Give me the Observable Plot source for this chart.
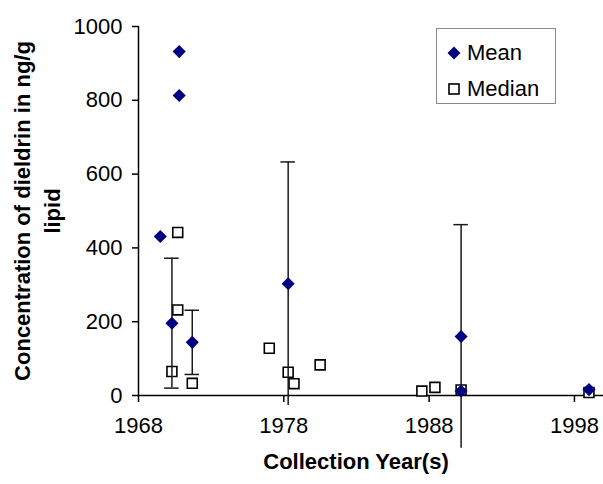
<!DOCTYPE html>
<html><head><meta charset="utf-8">
<script src="https://cdn.jsdelivr.net/npm/d3@7"></script>
<script src="https://cdn.jsdelivr.net/npm/@observablehq/plot@0.6"></script>
<style>
body{margin:0;background:#fff;}
#wrap{position:relative;width:603px;height:484px;font-family:"Liberation Sans",Arial,sans-serif;}
#legend{position:absolute;left:436px;top:28px;width:120px;height:76px;border:1px solid #8a8a8a;background:#fff;box-sizing:border-box;font-size:22px;color:#000;}
.item{position:absolute;left:0;height:24px;display:flex;align-items:center;}
.item svg{margin-left:10px;margin-right:6px;}
</style>
</head><body>
<div id="wrap"></div>
<script>
const xTicks = [1968, 1978, 1988, 1998];
const yTicks = [0, 200, 400, 600, 800, 1000];

const meanYears  = [1969.5, 1970.8, 1970.8, 1970.3, 1971.7, 1978.3, 1990.2, 1990.2, 1999.0];
const meanValues = [431, 932, 813, 196, 144, 303, 160, 12, 16];
const meanSD     = [null, null, null, 176, 87, 330, 303, null, null];

const medianYears  = [1970.7, 1970.7, 1970.3, 1971.7, 1977.0, 1978.3, 1978.7, 1980.5, 1987.5, 1988.4, 1990.2, 1999.0];
const medianValues = [442, 232, 65, 33, 128, 63, 32, 83, 12, 22, 15, 8];

const seriesNames = ["Mean", "Median"];
const xTitle = "Collection Year(s)";
const yTitle = "Concentration of dieldrin in ng/g\nlipid";

const means = meanYears.map((x, i) => ({x, y: meanValues[i], sd: meanSD[i]}));
const medians = medianYears.map((x, i) => ({x, y: medianValues[i]}));
const bars = means.filter(d => d.sd != null);
const caps = [];
bars.forEach(d => {
  [d.y - d.sd, d.y + d.sd].forEach(v => { if (v >= 0) caps.push({x: d.x, y: v}); });
});
const capHalf = 0.5;

const chart = Plot.plot({
  width: 603,
  height: 484,
  marginLeft: 138,
  marginRight: 0,
  marginTop: 26,
  marginBottom: 89,
  style: {fontFamily: "Liberation Sans, Arial, sans-serif", fontSize: "22px", color: "#000", background: "#fff"},
  x: {domain: [1968, 2000], label: null},
  y: {domain: [0, 1000], label: null},
  marks: [
    Plot.axisX({ticks: xTicks, tickSize: 7, tickPadding: 15, tickFormat: d3.format("d"), label: null, stroke: "#000", strokeWidth: 1.5}),
    Plot.axisY({ticks: yTicks, tickSize: 6, tickPadding: 10, tickFormat: d3.format("d"), label: null, stroke: "#000", strokeWidth: 1.5}),
    Plot.ruleX([1968], {stroke: "#000", strokeWidth: 1.5}),
    Plot.ruleY([0], {stroke: "#000", strokeWidth: 1.5}),
    Plot.dot(medians, {x: "x", y: "y", symbol: "square", r: 5.6, fill: "#fff", stroke: "#000", strokeWidth: 1.6}),
    Plot.ruleX(bars, {x: "x", y1: d => d.y - d.sd, y2: d => d.y + d.sd, stroke: "#1a1a1a", strokeWidth: 1.5}),
    Plot.ruleY(caps, {y: "y", x1: d => d.x - capHalf, x2: d => d.x + capHalf, stroke: "#1a1a1a", strokeWidth: 1.5}),
    Plot.dot(means, {x: "x", y: "y", symbol: "diamond2", r: 5.9, fill: "#000080", stroke: "none"}),
    Plot.text([xTitle], {frameAnchor: "bottom", dy: 73, dx: -15, text: d => d, fontWeight: "bold", fontSize: 22}),
    Plot.text([yTitle], {frameAnchor: "left", dx: -103, dy: 0, rotate: -90, text: d => d, fontWeight: "bold", fontSize: 22, lineHeight: 1.35, textAnchor: "middle"})
  ]
});
const wrap = document.getElementById("wrap");
wrap.appendChild(chart);

const legend = document.createElement("div");
legend.id = "legend";
legend.innerHTML = `
<div class="item" style="top:12px"><svg width="14" height="14"><path d="M7,0.5L13.5,7L7,13.5L0.5,7Z" fill="#000080"/></svg><span>${seriesNames[0]}</span></div>
<div class="item" style="top:48px"><svg width="14" height="14"><rect x="2" y="2" width="10" height="10" fill="#fff" stroke="#000" stroke-width="1.6"/></svg><span>${seriesNames[1]}</span></div>`;
wrap.appendChild(legend);
</script>
</body></html>
